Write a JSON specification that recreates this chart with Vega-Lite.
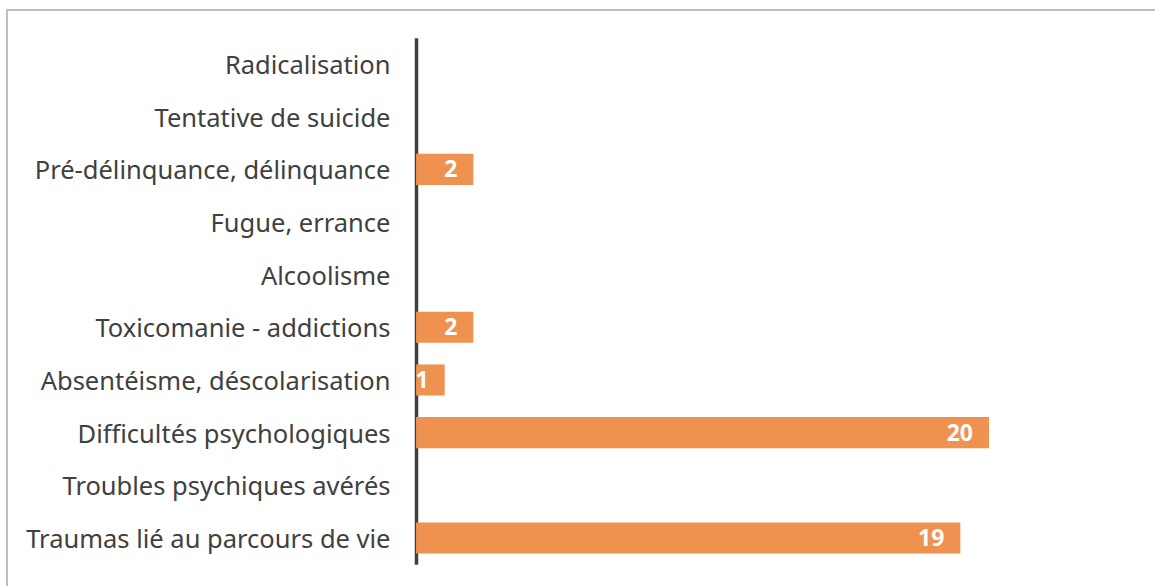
{
  "$schema": "https://vega.github.io/schema/vega-lite/v6.json",
  "autosize": {"type": "none"},
  "width": 1153,
  "height": 580,
  "padding": {"left": 7, "top": 10, "right": 0, "bottom": 0},
  "background": "white",
  "config": {
    "view": {"stroke": "#BFBFBF", "strokeWidth": 2},
    "font": "Noto Sans"
  },
  "data": {
    "values": [
      {"cat": "Radicalisation", "value": null},
      {"cat": "Tentative de suicide", "value": null},
      {"cat": "Pré-délinquance, délinquance", "value": 2},
      {"cat": "Fugue, errance", "value": null},
      {"cat": "Alcoolisme", "value": null},
      {"cat": "Toxicomanie - addictions", "value": 2},
      {"cat": "Absentéisme, déscolarisation", "value": 1},
      {"cat": "Difficultés psychologiques", "value": 20},
      {"cat": "Troubles psychiques avérés", "value": null},
      {"cat": "Traumas lié au parcours de vie", "value": 19}
    ]
  },
  "encoding": {
    "y": {
      "field": "cat",
      "type": "nominal",
      "sort": null,
      "scale": {
        "domain": ["Radicalisation", "Tentative de suicide", "Pré-délinquance, délinquance", "Fugue, errance", "Alcoolisme", "Toxicomanie - addictions", "Absentéisme, déscolarisation", "Difficultés psychologiques", "Troubles psychiques avérés", "Traumas lié au parcours de vie"],
        "range": [27.7, 554.3],
        "paddingInner": 0.41,
        "paddingOuter": 0.205
      },
      "axis": {
        "title": null,
        "offset": -409,
        "ticks": false,
        "labelPadding": 26,
        "labelFontSize": 25.5,
        "labelOffset": 2,
        "labelColor": "#404040",
        "labelFont": "Noto Sans",
        "labelLimit": 500,
        "domainColor": "#404040",
        "domainWidth": 3.5,
        "grid": false
      }
    },
    "x": {
      "field": "value",
      "type": "quantitative",
      "scale": {"domain": [-14.28, 25.97], "nice": false, "zero": false},
      "axis": null
    }
  },
  "layer": [
    {
      "mark": {"type": "bar", "color": "#F0924F", "clip": true},
      "encoding": {"x2": {"datum": 0}}
    },
    {
      "transform": [{"filter": "datum.value > 0"}],
      "mark": {"type": "text", "align": "right", "baseline": "middle", "dx": -16, "dy": 1, "color": "white", "fontWeight": "bold", "fontSize": 23, "font": "Noto Sans"},
      "encoding": {"text": {"field": "value", "type": "quantitative"}}
    }
  ]
}
